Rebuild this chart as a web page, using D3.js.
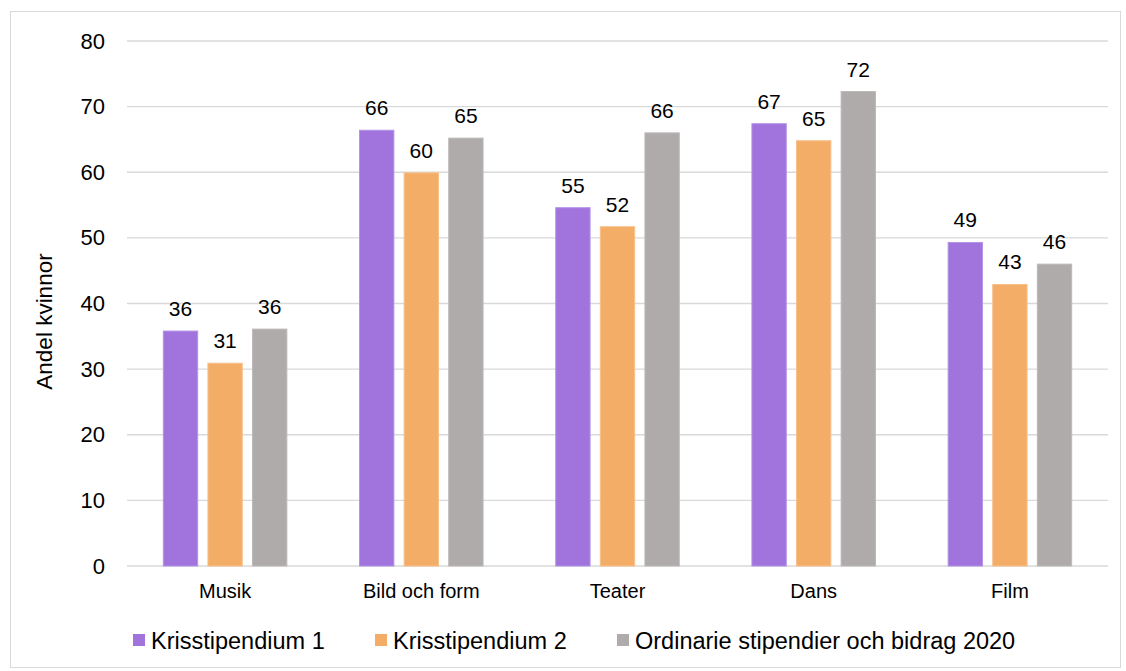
<!DOCTYPE html>
<html><head><meta charset="utf-8">
<script src="https://cdn.jsdelivr.net/npm/d3@7"></script>
<style>body{margin:0;background:#fff}svg{display:block;font-family:"Liberation Sans",Arial,sans-serif}</style>
</head><body><svg id="c" width="1126" height="671"></svg>
<script>
const categories = ["Musik","Bild och form","Teater","Dans","Film"];
const seriesNames = ["Krisstipendium 1","Krisstipendium 2","Ordinarie stipendier och bidrag 2020"];
const kris1 = [35.8, 66.4, 54.6, 67.4, 49.3];
const kris2 = [30.9, 59.9, 51.7, 64.8, 42.9];
const ordinarie = [36.1, 65.2, 66.0, 72.3, 46.0];
const yTicks = [0,10,20,30,40,50,60,70,80];
const colors = ["#a074dc","#f4ad66","#afabab"];
const strokes = ["#b393e6","#f7c08a","#bdb9b9"];

const series = [kris1, kris2, ordinarie];
const svg = d3.select("#c");
const FF = "Liberation Sans, Arial, sans-serif";
svg.append("rect").attr("x",10.5).attr("y",11.5).attr("width",1110).attr("height",656)
  .attr("fill","#fff").attr("stroke","#d9d9d9").attr("stroke-width",1);

const pL=127, pR=1108, pT=41, pB=566;
const y = d3.scaleLinear().domain([0,80]).range([pB,pT]);
const x0 = d3.scaleBand().domain(categories).range([pL,pR]).paddingInner(0).paddingOuter(0);
const x1 = d3.scaleBand().domain([0,1,2]).range([x0.bandwidth()/2-64, x0.bandwidth()/2+64]).paddingInner(0.23).paddingOuter(0.05);

const yAxis = d3.axisLeft(y).tickValues(yTicks).tickSize(0).tickPadding(0);
const gy = svg.append("g").attr("transform",`translate(${pL},0)`);
yTicks.forEach(t=>{
  gy.append("line").attr("x1",0).attr("x2",pR-pL).attr("y1",y(t)).attr("y2",y(t))
    .attr("stroke","#d9d9d9").attr("stroke-width",1.3);
});
gy.call(yAxis).call(g=>g.select(".domain").remove())
  .selectAll("text").attr("x",-22).attr("font-size",22).attr("fill","#000").attr("font-family",FF);

const groups = svg.append("g").selectAll("g").data(categories).join("g")
  .attr("transform",d=>`translate(${x0(d)},0)`);
series.forEach((s,si)=>{
  groups.append("rect")
    .attr("x",x1(si)).attr("width",x1.bandwidth())
    .attr("y",(d,i)=>y(s[i])).attr("height",(d,i)=>y(0)-y(s[i]))
    .attr("fill",colors[si]).attr("stroke",strokes[si]).attr("stroke-width",1);
  groups.append("text")
    .attr("x",x1(si)+x1.bandwidth()/2).attr("y",(d,i)=>y(s[i])-15)
    .attr("text-anchor","middle").attr("font-size",21).attr("fill","#000")
    .text((d,i)=>Math.round(s[i]));
});

const xAxis = d3.axisBottom(x0).tickSize(0).tickPadding(0);
svg.append("g").attr("transform",`translate(0,${pB})`).call(xAxis)
  .call(g=>g.select(".domain").remove())
  .selectAll("text").attr("y",32).attr("dy",0).attr("font-size",20).attr("fill","#000")
  .attr("font-family",FF);

svg.append("text").attr("transform",`translate(52,${(pT+pB)/2+18}) rotate(-90)`)
  .attr("text-anchor","middle").attr("font-size",22.5).attr("fill","#000").text("Andel kvinnor");

const legX = [133, 375, 617];
const leg = svg.append("g");
seriesNames.forEach((n,i)=>{
  leg.append("rect").attr("x",legX[i]).attr("y",634).attr("width",12).attr("height",12).attr("fill",colors[i]);
  leg.append("text").attr("x",legX[i]+18).attr("y",649).attr("font-size",23.5).attr("fill","#000").text(n);
});
</script></body></html>
